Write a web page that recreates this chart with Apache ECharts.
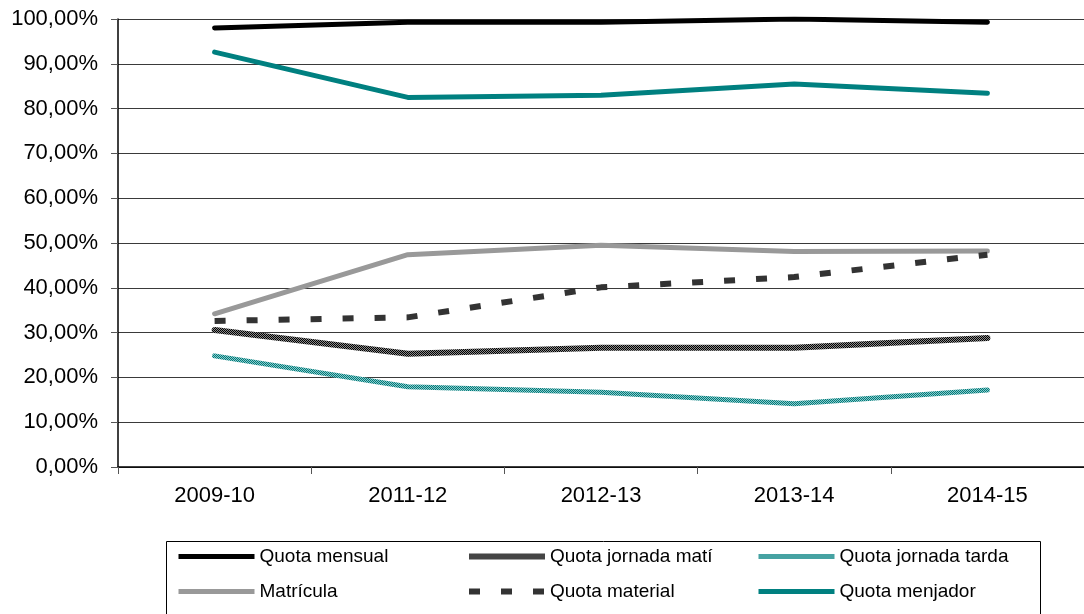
<!DOCTYPE html>
<html>
<head>
<meta charset="utf-8">
<script src="https://cdn.jsdelivr.net/npm/echarts@6/dist/echarts.min.js"></script>
<style>
    html, body { margin: 0; padding: 0; background: #fff; }
    #Chart { width: 1084px; height: 614px; }
</style>
</head>
<body>
<div id="Chart"></div>
<script>
    // dades
    let Cursos = ["2009-10", "2011-12", "2012-13", "2013-14", "2014-15"]
    let QuotaMensual = [98.0, 99.3, 99.3, 100.0, 99.3]
    let QuotaMati = [30.6, 25.3, 26.6, 26.6, 28.8]
    let QuotaTarda = [24.8, 17.9, 16.7, 14.1, 17.2]
    let Matricula = [34.2, 47.4, 49.5, 48.1, 48.2]
    let QuotaMaterial = [32.6, 33.4, 40.1, 42.4, 47.4]
    let QuotaMenjador = [92.6, 82.5, 83.0, 85.5, 83.4]

    // patrons de quadrícula per a les línies "jornada"
    function MakePattern(c1, c2) {
        let cv = document.createElement("canvas")
        cv.width = 2
        cv.height = 2
        let ctx = cv.getContext("2d")
        ctx.fillStyle = c2
        ctx.fillRect(0, 0, 2, 2)
        ctx.fillStyle = c1
        ctx.fillRect(0, 0, 1, 1)
        ctx.fillRect(1, 1, 1, 1)
        return { image: cv, repeat: "repeat" }
    }
    let PatMati = MakePattern("#000000", "#8a8a8a")
    let PatTarda = MakePattern("#007a7a", "#8ccaca")

    let chart = echarts.init(document.getElementById("Chart"))

    let font = "Liberation Sans, Arial, sans-serif"

    function LineSeries(name, data, color, width, type) {
        return {
            name: name,
            type: "line",
            data: data,
            symbol: "none",
            smooth: false,
            lineStyle: {
                color: color, width: width, type: type || "solid",
                cap: type ? "butt" : "round", join: "round"
            },
            itemStyle: { color: "rgba(0,0,0,0)" },
            emphasis: { disabled: true }
        }
    }

    function MakeLegend(left, names) {
        return {
            orient: "vertical",
            left: left,
            top: 547,
            padding: 0,
            itemWidth: 76,
            itemHeight: 14,
            itemGap: 16,
            selectedMode: false,
            itemStyle: { opacity: 0 },
            lineStyle: { width: "inherit", type: "inherit", cap: "butt" },
            textStyle: { fontFamily: font, fontSize: 19, color: "#000" },
            data: names
        }
    }

    let options = {
        animation: false,
        backgroundColor: "#fff",
        grid: { left: 118, top: 19, width: 970, height: 448 },
        xAxis: {
            type: "category",
            data: Cursos,
            boundaryGap: true,
            axisLine: { lineStyle: { color: "#000", width: 1.5 } },
            axisTick: { show: true, length: 7, lineStyle: { color: "#555" } },
            axisLabel: { fontFamily: font, fontSize: 22, color: "#000", margin: 18 }
        },
        yAxis: {
            type: "value",
            min: 0,
            max: 100,
            interval: 10,
            axisLine: { show: true, lineStyle: { color: "#000", width: 1.5 } },
            axisTick: { show: true, length: 7, lineStyle: { color: "#555" } },
            splitLine: { lineStyle: { color: "#3a3a3a", width: 1 } },
            axisLabel: {
                fontFamily: font, fontSize: 22, color: "#000", margin: 20,
                formatter: function (v) { return v.toFixed(2).replace(".", ",") + "%" }
            }
        },
        legend: [
            MakeLegend(176, ["Quota mensual", "Matrícula"]),
            MakeLegend(466, ["Quota jornada matí", "Quota material"]),
            MakeLegend(756, ["Quota jornada tarda", "Quota menjador"])
        ],
        graphic: [
            {
                type: "rect",
                shape: { x: 166.5, y: 541.5, width: 874, height: 90 },
                style: { fill: "none", stroke: "#000", lineWidth: 1 },
                silent: true
            }
        ],
        series: [
            LineSeries("Quota mensual", QuotaMensual, "#000000", 5),
            LineSeries("Quota jornada matí", QuotaMati, PatMati, 6),
            LineSeries("Quota jornada tarda", QuotaTarda, PatTarda, 5),
            LineSeries("Matrícula", Matricula, "#999999", 5),
            LineSeries("Quota material", QuotaMaterial, "#333333", 6, [11, 21]),
            LineSeries("Quota menjador", QuotaMenjador, "#008080", 5)
        ]
    }

    chart.setOption(options)
</script>
</body>
</html>
